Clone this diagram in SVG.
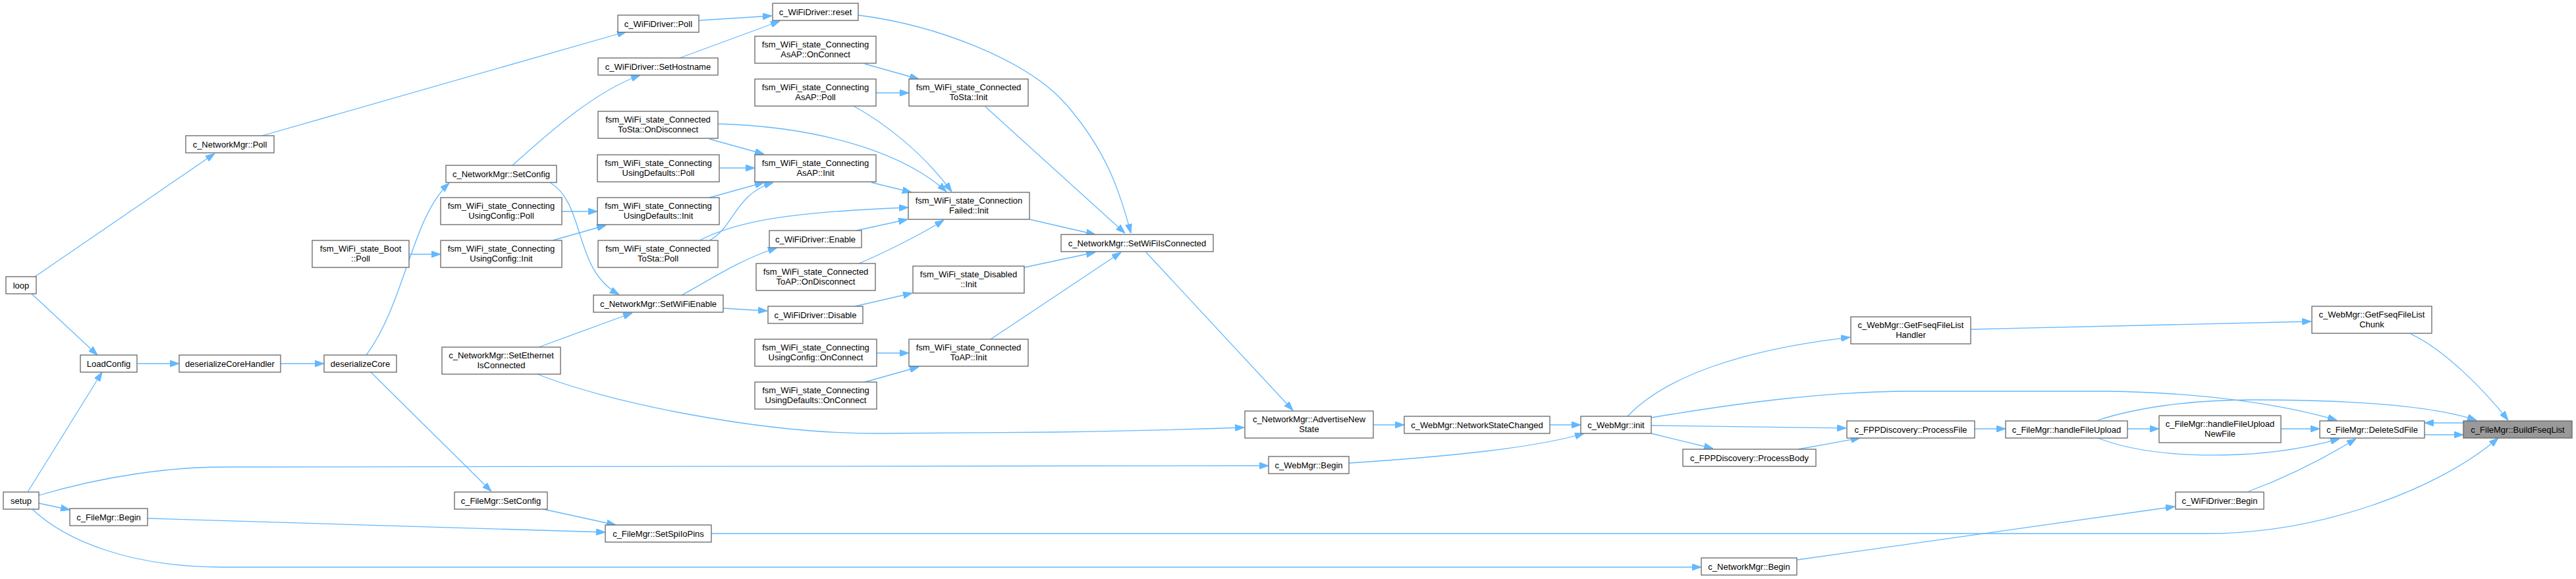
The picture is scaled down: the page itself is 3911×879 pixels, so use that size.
<svg xmlns="http://www.w3.org/2000/svg" width="3911" height="879" viewBox="0 0 3911 879">
<style>
.node rect{fill:#ffffff;stroke:#666666;stroke-width:1.3}
.node.focus rect{fill:#999999}
.node text{font-family:"Liberation Sans",Arial,Helvetica,sans-serif;font-size:13px;fill:#000000;text-anchor:middle}
.edges path{fill:none;stroke:#63b8ff;stroke-width:1.3;marker-end:url(#ah)}
</style>
<defs>
<marker id="ah" viewBox="0 0 14 10" refX="14" refY="5" markerWidth="14" markerHeight="10" markerUnits="userSpaceOnUse" orient="auto">
<path d="M0,0 L14,5 L0,10 z" fill="#63b8ff" stroke="#63b8ff"/>
</marker>
</defs>
<rect width="3911" height="879" fill="#ffffff"/>
<g class="edges">
<path d="M398,206 L951,48"/>
<path d="M53,420 L326,233"/>
<path d="M1061,31 L1172,24"/>
<path d="M1032,88 L1184,32"/>
<path d="M1303,23 C1420,38 1560,90 1620,160 S1700,290 1717,354"/>
<path d="M1313,97 L1395,120"/>
<path d="M1330,141 L1380,141"/>
<path d="M1296,161 C1340,185 1400,230 1445,291"/>
<path d="M1496,162 L1708,354"/>
<path d="M1090,188 C1240,192 1370,230 1437,291"/>
<path d="M1077,211 L1160,234"/>
<path d="M1092,255 L1146,255"/>
<path d="M1077,300 L1160,277"/>
<path d="M1077,365 C1115,345 1115,295 1174,277"/>
<path d="M1062,365 C1120,335 1200,322 1379,315"/>
<path d="M1323,277 L1384,292"/>
<path d="M1300,350 L1378,333"/>
<path d="M1304,400 C1340,385 1400,355 1433,334"/>
<path d="M1563,333 L1663,356"/>
<path d="M1555,406 L1663,383"/>
<path d="M1504,515 L1702,383"/>
<path d="M1740,383 L1963,623"/>
<path d="M1298,465 L1385,445"/>
<path d="M1098,468 L1165,472"/>
<path d="M1035,448 C1070,430 1120,395 1180,376"/>
<path d="M818,527 L960,475"/>
<path d="M835,277 C890,310 870,410 940,447"/>
<path d="M778,251 C830,205 900,140 972,114"/>
<path d="M853,321 L907,321"/>
<path d="M839,365 L920,342"/>
<path d="M621,386 L669,386"/>
<path d="M556,539 C615,460 625,330 682,278"/>
<path d="M562,564 L746,746"/>
<path d="M426,552 L492,552"/>
<path d="M208,552 L272,552"/>
<path d="M48,446 L148,539"/>
<path d="M42,747 L155,565"/>
<path d="M59,764 L106,774"/>
<path d="M224,787 L919,808"/>
<path d="M825,773 L935,797"/>
<path d="M1080,810 L3350,810 C3520,810 3700,745 3793,665"/>
<path d="M59,752 C160,722 260,709 340,709 L1926,707"/>
<path d="M48,772 C100,822 200,861 337,861 L2583,861"/>
<path d="M816,568 C920,610 1150,658 1330,658 L1600,656 Q1750,654 1889,649"/>
<path d="M2085,645 L2132,645"/>
<path d="M2353,645 L2400,645"/>
<path d="M2048,703 C2200,693 2330,680 2405,658"/>
<path d="M2471,632 C2530,570 2650,530 2809,512"/>
<path d="M2507,634 C2650,610 2780,594 2900,594 L3200,594 C3350,596 3470,615 3548,638"/>
<path d="M3185,665 C3250,690 3330,693 3400,690 C3460,687 3510,678 3552,666"/>
<path d="M2507,646 L2803,650"/>
<path d="M2507,658 L2601,681"/>
<path d="M2730,682 L2824,665"/>
<path d="M2998,651 L3045,651"/>
<path d="M3230,651 L3278,651"/>
<path d="M3463,651 L3522,651"/>
<path d="M3185,638 C3240,620 3320,607 3420,607 C3560,607 3690,615 3760,638"/>
<path d="M2992,500 L3509,488"/>
<path d="M3660,507 C3710,530 3770,590 3808,638"/>
<path d="M3414,746 C3470,725 3530,695 3577,666"/>
<path d="M2728,850 L3302,769"/>
<path d="M3681,660 L3740,660"/>
<path d="M3740,642 L3681,642"/>
<path d="M1331,536 L1380,536"/>
<path d="M1313,580 L1395,557"/>
</g>
<g id="n1" class="node focus"><rect x="3740" y="639" width="165" height="26"/><text x="3822.5" y="656.5">c_FileMgr::BuildFseqList</text></g>
<g id="n2" class="node"><rect x="3510" y="465" width="182" height="41"/><text x="3601" y="482">c_WebMgr::GetFseqFileList<tspan x="3601" y="497">Chunk</tspan></text></g>
<g id="n3" class="node"><rect x="3522" y="639" width="159" height="26"/><text x="3601.5" y="656.5">c_FileMgr::DeleteSdFile</text></g>
<g id="n4" class="node"><rect x="3303" y="747" width="134" height="26"/><text x="3370" y="764.5">c_WiFiDriver::Begin</text></g>
<g id="n5" class="node"><rect x="3278" y="631" width="185" height="41"/><text x="3370.5" y="648">c_FileMgr::handleFileUpload<tspan x="3370.5" y="663">NewFile</tspan></text></g>
<g id="n6" class="node"><rect x="3045" y="639" width="185" height="26"/><text x="3137.5" y="656.5">c_FileMgr::handleFileUpload</text></g>
<g id="n7" class="node"><rect x="2804" y="639" width="194" height="26"/><text x="2901" y="656.5">c_FPPDiscovery::ProcessFile</text></g>
<g id="n8" class="node"><rect x="2555" y="682" width="202" height="26"/><text x="2656" y="699.5">c_FPPDiscovery::ProcessBody</text></g>
<g id="n9" class="node"><rect x="2810" y="481" width="182" height="41"/><text x="2901" y="498">c_WebMgr::GetFseqFileList<tspan x="2901" y="513">Handler</tspan></text></g>
<g id="n10" class="node"><rect x="2400" y="632" width="107" height="26"/><text x="2453.5" y="649.5">c_WebMgr::init</text></g>
<g id="n11" class="node"><rect x="2132" y="632" width="221" height="26"/><text x="2242.5" y="649.5">c_WebMgr::NetworkStateChanged</text></g>
<g id="n12" class="node"><rect x="1926" y="693" width="122" height="26"/><text x="1987" y="710.5">c_WebMgr::Begin</text></g>
<g id="n13" class="node"><rect x="1890" y="624" width="195" height="41"/><text x="1987.5" y="641">c_NetworkMgr::AdvertiseNew<tspan x="1987.5" y="656">State</tspan></text></g>
<g id="n14" class="node"><rect x="2583" y="847" width="145" height="26"/><text x="2655.5" y="864.5">c_NetworkMgr::Begin</text></g>
<g id="n15" class="node"><rect x="1611" y="356" width="231" height="26"/><text x="1726.5" y="373.5">c_NetworkMgr::SetWiFiIsConnected</text></g>
<g id="n16" class="node"><rect x="1380" y="120" width="181" height="41"/><text x="1470.5" y="137">fsm_WiFi_state_Connected<tspan x="1470.5" y="152">ToSta::Init</tspan></text></g>
<g id="n17" class="node"><rect x="1379" y="292" width="184" height="41"/><text x="1471" y="309">fsm_WiFi_state_Connection<tspan x="1471" y="324">Failed::Init</tspan></text></g>
<g id="n18" class="node"><rect x="1386" y="404" width="169" height="41"/><text x="1470.5" y="421">fsm_WiFi_state_Disabled<tspan x="1470.5" y="436">::Init</tspan></text></g>
<g id="n19" class="node"><rect x="1380" y="515" width="181" height="41"/><text x="1470.5" y="532">fsm_WiFi_state_Connected<tspan x="1470.5" y="547">ToAP::Init</tspan></text></g>
<g id="n20" class="node"><rect x="1173" y="5" width="130" height="26"/><text x="1238" y="22.5">c_WiFiDriver::reset</text></g>
<g id="n21" class="node"><rect x="1146" y="55" width="184" height="41"/><text x="1238" y="72">fsm_WiFi_state_Connecting<tspan x="1238" y="87">AsAP::OnConnect</tspan></text></g>
<g id="n22" class="node"><rect x="1146" y="120" width="184" height="41"/><text x="1238" y="137">fsm_WiFi_state_Connecting<tspan x="1238" y="152">AsAP::Poll</tspan></text></g>
<g id="n23" class="node"><rect x="1146" y="235" width="184" height="41"/><text x="1238" y="252">fsm_WiFi_state_Connecting<tspan x="1238" y="267">AsAP::Init</tspan></text></g>
<g id="n24" class="node"><rect x="1168" y="350" width="140" height="26"/><text x="1238" y="367.5">c_WiFiDriver::Enable</text></g>
<g id="n25" class="node"><rect x="1148" y="400" width="181" height="41"/><text x="1238.5" y="417">fsm_WiFi_state_Connected<tspan x="1238.5" y="432">ToAP::OnDisconnect</tspan></text></g>
<g id="n26" class="node"><rect x="1166" y="465" width="144" height="26"/><text x="1238" y="482.5">c_WiFiDriver::Disable</text></g>
<g id="n27" class="node"><rect x="1146" y="515" width="185" height="41"/><text x="1238.5" y="532">fsm_WiFi_state_Connecting<tspan x="1238.5" y="547">UsingConfig::OnConnect</tspan></text></g>
<g id="n28" class="node"><rect x="1146" y="580" width="185" height="41"/><text x="1238.5" y="597">fsm_WiFi_state_Connecting<tspan x="1238.5" y="612">UsingDefaults::OnConnect</tspan></text></g>
<g id="n29" class="node"><rect x="938" y="23" width="123" height="26"/><text x="999.5" y="40.5">c_WiFiDriver::Poll</text></g>
<g id="n30" class="node"><rect x="908" y="88" width="182" height="26"/><text x="999" y="105.5">c_WiFiDriver::SetHostname</text></g>
<g id="n31" class="node"><rect x="908" y="169" width="182" height="41"/><text x="999" y="186">fsm_WiFi_state_Connected<tspan x="999" y="201">ToSta::OnDisconnect</tspan></text></g>
<g id="n32" class="node"><rect x="907" y="235" width="185" height="41"/><text x="999.5" y="252">fsm_WiFi_state_Connecting<tspan x="999.5" y="267">UsingDefaults::Poll</tspan></text></g>
<g id="n33" class="node"><rect x="907" y="300" width="185" height="41"/><text x="999.5" y="317">fsm_WiFi_state_Connecting<tspan x="999.5" y="332">UsingDefaults::Init</tspan></text></g>
<g id="n34" class="node"><rect x="908" y="365" width="182" height="41"/><text x="999" y="382">fsm_WiFi_state_Connected<tspan x="999" y="397">ToSta::Poll</tspan></text></g>
<g id="n35" class="node"><rect x="901" y="448" width="197" height="26"/><text x="999.5" y="465.5">c_NetworkMgr::SetWiFiEnable</text></g>
<g id="n36" class="node"><rect x="671" y="527" width="180" height="41"/><text x="761" y="544">c_NetworkMgr::SetEthernet<tspan x="761" y="559">IsConnected</tspan></text></g>
<g id="n37" class="node"><rect x="690" y="747" width="141" height="26"/><text x="760.5" y="764.5">c_FileMgr::SetConfig</text></g>
<g id="n38" class="node"><rect x="919" y="797" width="161" height="26"/><text x="999.5" y="814.5">c_FileMgr::SetSpiIoPins</text></g>
<g id="n39" class="node"><rect x="677" y="251" width="168" height="26"/><text x="761" y="268.5">c_NetworkMgr::SetConfig</text></g>
<g id="n40" class="node"><rect x="669" y="300" width="184" height="41"/><text x="761" y="317">fsm_WiFi_state_Connecting<tspan x="761" y="332">UsingConfig::Poll</tspan></text></g>
<g id="n41" class="node"><rect x="669" y="365" width="184" height="41"/><text x="761" y="382">fsm_WiFi_state_Connecting<tspan x="761" y="397">UsingConfig::Init</tspan></text></g>
<g id="n42" class="node"><rect x="474" y="365" width="147" height="41"/><text x="547.5" y="382">fsm_WiFi_state_Boot<tspan x="547.5" y="397">::Poll</tspan></text></g>
<g id="n43" class="node"><rect x="282" y="206" width="134" height="26"/><text x="349" y="223.5">c_NetworkMgr::Poll</text></g>
<g id="n44" class="node"><rect x="492" y="539" width="110" height="26"/><text x="547" y="556.5">deserializeCore</text></g>
<g id="n45" class="node"><rect x="272" y="539" width="154" height="26"/><text x="349" y="556.5">deserializeCoreHandler</text></g>
<g id="n46" class="node"><rect x="122" y="539" width="86" height="26"/><text x="165" y="556.5">LoadConfig</text></g>
<g id="n47" class="node"><rect x="106" y="772" width="118" height="26"/><text x="165" y="789.5">c_FileMgr::Begin</text></g>
<g id="n48" class="node"><rect x="9" y="420" width="46" height="26"/><text x="32" y="437.5">loop</text></g>
<g id="n49" class="node"><rect x="5" y="747" width="54" height="26"/><text x="32" y="764.5">setup</text></g>
</svg>
